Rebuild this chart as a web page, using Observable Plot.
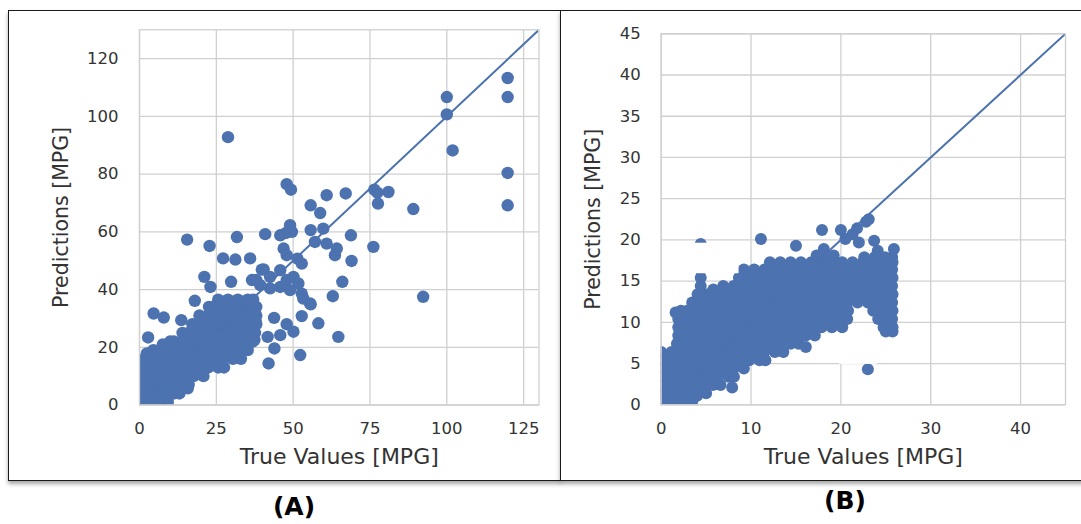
<!DOCTYPE html>
<html>
<head>
<meta charset="utf-8">
<script src="https://cdn.jsdelivr.net/npm/d3@7"></script>
<script src="https://cdn.jsdelivr.net/npm/@observablehq/plot@0.6"></script>
<style>
  html, body { margin: 0; padding: 0; background: #fff; }
  body { position: relative; width: 1081px; height: 524px; overflow: hidden; font-family: "DejaVu Sans", sans-serif; }
  .panel { position: absolute; box-sizing: border-box; border: 1.5px solid #1a1a1a; box-shadow: 0 3px 4px rgba(0,0,0,0.35); background: #fff; }
  .plot { position: absolute; top: 0; }
  .cap { position: absolute; font: bold 25px "DejaVu Sans", sans-serif; line-height: 1; color: #000; transform: translateX(-50%); white-space: nowrap; }
</style>
</head>
<body>
<div class="panel" style="left:8px;top:10px;width:553px;height:471px"></div>
<div class="panel" style="left:559.5px;top:10px;width:540px;height:471px"></div>
<div id="plotA" class="plot" style="left:0px"></div>
<div id="plotB" class="plot" style="left:560px"></div>
<div class="cap" style="left:294px;top:494px">(A)</div>
<div class="cap" style="left:845px;top:488px">(B)</div>
<script>
// ---------- shared text ----------
const labelX = "True Values [MPG]";
const labelY = "Predictions [MPG]";
const dotColor = "#4c72b0";

// ---------- Panel (A) ----------
const limitsA = [0, 130];
const xTicksA = [0, 25, 50, 75, 100, 125];
const yTicksA = [0, 20, 40, 60, 80, 100, 120];
// dense core: [prediction, [true values...]]
const denseRowsA = [
  [1, [0, 3.2, 6.4, 9.2]],
  [4, [0, 1.6, 4.8, 8, 11.2, 13]],
  [7, [0, 3.2, 6.4, 9.6, 12.8, 16]],
  [10, [0, 1.6, 4.8, 8, 11.2, 14.4, 17.6, 20.8]],
  [13, [0, 3.2, 6.4, 9.6, 12.8, 16, 19.2, 22.4, 25.6, 27.5]],
  [16, [1.6, 4.8, 8, 11.2, 14.4, 17.6, 20.8, 24, 27.2, 30.4, 33]],
  [19, [4.5, 6.4, 9.6, 12.8, 16, 19.2, 22.4, 25.6, 28.8, 32, 35.2]],
  [21, [7.6]],
  [22, [10, 11.2, 14.4, 17.6, 20.8, 24, 27.2, 30.4, 33.6, 36.8]],
  [25, [14, 16, 19.2, 22.4, 25.6, 28.8, 32, 35.2, 37.6]],
  [28, [17.2, 20.8, 24, 27.2, 30.4, 33.6, 36.8, 38]],
  [31, [19.5, 22.4, 25.6, 28.8, 32, 35.2, 38]],
  [34, [22.6, 24, 27.2, 30.4, 33.6, 36.8, 38]],
  [36.5, [25.6, 28.8, 32, 35.2, 37]]
];
// scattered points: [true value, prediction]
const outliersA = [
  [28.8,92.8],[100,106.7],[100,100.7],[101.9,88.2],[119.8,113.3],[119.8,106.7],[119.8,80.4],[119.8,69.2],[89.1,67.9],[92.3,37.5],
  [47.9,76.5],[49.3,74.6],[76.4,74.6],[77.4,73.6],[81.0,73.8],[77.6,69.8],[60.9,72.7],[67.1,73.3],[55.7,69.2],[58.8,66.5],
  [76.1,54.8],[68.8,58.8],[69.0,49.9],[66.0,42.7],[62.9,37.7],[64.7,23.6],[58.2,28.3],[52.8,30.8],[55.7,34.9],[53.3,36.9],
  [52.3,17.3],[42.0,14.4],[43.9,19.6],[43.8,30.2],[47.9,28.0],[50.1,25.4],[41.7,23.6],[45.8,24.2],
  [15.5,57.3],[22.8,55.1],[31.7,58.2],[27.2,50.8],[31.2,50.4],[36.0,50.8],[21.1,44.4],[23.1,40.9],[29.8,42.7],[36.6,43.3],[39.8,46.9],
  [40.9,59.2],[47.7,59.6],[49.6,60.0],[49.0,62.3],[45.8,58.8],[46.9,54.2],[47.9,51.9],[52.8,49.0],[51.4,50.7],[55.7,60.6],
  [59.8,61.1],[57.1,56.5],[60.9,55.9],[64.2,54.2],[63.6,51.9],
  [40.4,47.0],[42.5,44.4],[45.8,46.7],[47.9,43.3],[50.1,44.4],[51.7,42.1],[45.8,40.9],[42.5,40.4],[49.0,39.8],[52.8,38.6],
  [55.5,35.2],[39.3,41.5],[38.0,43.3],
  [4.6,31.7],[7.9,30.3],[2.8,23.4],[13.6,29.4],[18.0,36.1],[2.4,17.9],[37.8,29.2],[37.4,22.5],[15.7,5.8]
];

// ---------- Panel (B) ----------
const limitsB = [0, 45];
const xTicksB = [0, 10, 20, 30, 40];
const yTicksB = [0, 5, 10, 15, 20, 25, 30, 35, 40, 45];
const denseRowsB = [
  [0.4, [0, 1.15, 2.3, 3.45]],
  [1.4, [0, 0.6, 1.75, 2.9, 4.05, 5.0]],
  [2.4, [0, 1.15, 2.3, 3.45, 4.6, 5.75, 6.6]],
  [3.4, [0, 0.6, 1.75, 2.9, 4.05, 5.2, 6.35, 7.5, 8.1]],
  [4.4, [0, 1.15, 2.3, 3.45, 4.6, 5.75, 6.9, 8.05, 9.2]],
  [5.4, [0, 0.6, 1.75, 2.9, 4.05, 5.2, 6.35, 7.5, 8.65, 9.8, 10.95, 11.6]],
  [6.4, [0, 1.15, 2.3, 3.45, 4.6, 5.75, 6.9, 8.05, 9.2, 10.35, 11.5, 12.65, 13.6]],
  [7.4, [1.75, 2.9, 4.05, 5.2, 6.35, 7.5, 8.65, 9.8, 10.95, 12.1, 13.25, 14.4, 15.3]],
  [8.4, [1.9, 2.3, 3.45, 4.6, 5.75, 6.9, 8.05, 9.2, 10.35, 11.5, 12.65, 13.8, 14.95, 16.1, 17.1]],
  [8.9, [25.0, 25.75]],
  [9.4, [1.9, 2.9, 4.05, 5.2, 6.35, 7.5, 8.65, 9.8, 10.95, 12.1, 13.25, 14.4, 15.55, 16.7, 17.85, 19.0, 20.15, 24.75, 25.75]],
  [10.4, [1.9, 2.3, 3.45, 4.6, 5.75, 6.9, 8.05, 9.2, 10.35, 11.5, 12.65, 13.8, 14.95, 16.1, 17.25, 18.4, 19.55, 20.7, 24.15, 25.3, 25.7]],
  [11.4, [2.2, 2.9, 4.05, 5.2, 6.35, 7.5, 8.65, 9.8, 10.95, 12.1, 13.25, 14.4, 15.55, 16.7, 17.85, 19.0, 20.15, 20.8, 23.6, 24.75, 25.75]],
  [12.4, [3.45, 4.6, 5.75, 6.9, 8.05, 9.2, 10.35, 11.5, 12.65, 13.8, 14.95, 16.1, 17.25, 18.4, 19.55, 20.7, 21.85, 23.0, 24.15, 25.3, 25.7]],
  [13.4, [4.05, 5.2, 6.35, 7.5, 8.65, 9.8, 10.95, 12.1, 13.25, 14.4, 15.55, 16.7, 17.85, 19.0, 20.15, 21.3, 22.45, 23.6, 24.75, 25.75]],
  [14.0, [5.8]],
  [14.4, [4.4, 6.9, 8.05, 9.2, 10.35, 11.5, 12.65, 13.8, 14.95, 16.1, 17.25, 18.4, 19.55, 20.7, 21.85, 23.0, 24.15, 25.3, 25.7]],
  [15.4, [4.4, 8.65, 9.8, 10.95, 12.1, 13.25, 14.4, 15.55, 16.7, 17.85, 19.0, 20.15, 21.3, 22.45, 23.6, 24.75, 25.75]],
  [16.4, [4.4, 9.2, 10.35, 11.5, 12.65, 13.8, 14.95, 16.1, 17.25, 18.4, 19.55, 20.7, 21.85, 23.0, 24.15, 25.3, 25.7]],
  [17.3, [4.4, 12.1, 13.25, 14.4, 15.55, 16.7, 17.85, 19.0, 20.15, 21.3, 22.45, 23.6, 24.75, 25.75]],
  [17.9, [22.6, 23.75, 24.9, 25.7]],
  [18.1, [4.4, 17.3, 18.4, 19.2]]
];
const outliersB = [
  [1.6,11.2],[7.9,2.1],[16.1,7.0],[23.0,4.3],[4.4,19.5],[11.1,20.1],[15.0,19.3],[17.9,21.2],[20.0,21.2],[20.5,20.1],
  [21.3,20.7],[21.8,21.4],[22.8,22.2],[23.1,22.5],[22.0,19.7],[23.7,19.9],[24.1,18.7],[25.9,18.9],[4.0,1.1],[18.1,18.9]
];
// white patches present in the source image: [x1, x2, y1, y2]
const patchesB = [[2.24, 8.66, 15.9, 19.6], [19.85, 24.05, 4.9, 8.6]];

function toPoints(rows, outliers) {
  const pts = [];
  for (const [pred, xs] of rows) for (const t of xs) pts.push({truth: t, pred});
  for (const [t, pred] of outliers) pts.push({truth: t, pred});
  return pts;
}

function panel({limits, xTicks, yTicks, points, patches, width, height, margins, r, padY, ylabelDx}) {
  const gridStyle = {stroke: "#d0d0d0", strokeOpacity: 1, strokeWidth: 1.3};
  const diag = limits.map(v => ({truth: v, pred: v}));
  return Plot.plot({
    width, height, ...margins,
    style: {background: "transparent", fontFamily: "DejaVu Sans, sans-serif", overflow: "visible"},
    x: {domain: limits, axis: null},
    y: {domain: limits, axis: null},
    marks: [
      Plot.gridX(xTicks, gridStyle),
      Plot.gridY(yTicks, gridStyle),
      Plot.dot(points, {x: "truth", y: "pred", r, fill: dotColor, clip: true}),
      Plot.line(diag, {x: "truth", y: "pred", stroke: dotColor, strokeWidth: 2, clip: true}),
      patches ? Plot.rect(patches, {x1: d => d[0], x2: d => d[1], y1: d => d[2], y2: d => d[3], fill: "white"}) : null,
      Plot.frame({stroke: "#d0d0d0", strokeWidth: 1.3}),
      Plot.axisX(xTicks, {anchor: "bottom", tickSize: 0, tickPadding: 17, fontSize: 16.5, color: "#333", label: null}),
      Plot.axisY(yTicks, {anchor: "left", tickSize: 0, tickPadding: padY, fontSize: 16.5, color: "#333", label: null}),
      Plot.text([labelX], {text: d => d, frameAnchor: "bottom", dy: 52, textAnchor: "middle", lineAnchor: "middle", fontSize: 22, fill: "#333"}),
      Plot.text([labelY], {text: d => d, frameAnchor: "left", dx: ylabelDx, rotate: -90, textAnchor: "middle", lineAnchor: "middle", fontSize: 20.5, fill: "#333"})
    ]
  });
}

document.getElementById("plotA").append(panel({
  limits: limitsA, xTicks: xTicksA, yTicks: yTicksA,
  points: toPoints(denseRowsA, outliersA), patches: null,
  width: 560, height: 480,
  margins: {marginLeft: 139, marginRight: 21.5, marginTop: 29.3, marginBottom: 75.5},
  r: 6.2, padY: 21, ylabelDx: -78.5
}));

document.getElementById("plotB").append(panel({
  limits: limitsB, xTicks: xTicksB, yTicks: yTicksB,
  points: toPoints(denseRowsB, outliersB), patches: patchesB,
  width: 521, height: 480,
  margins: {marginLeft: 100.7, marginRight: 16, marginTop: 33.3, marginBottom: 75.7},
  r: 6, padY: 20.5, ylabelDx: -67.5
}));
</script>
</body>
</html>
